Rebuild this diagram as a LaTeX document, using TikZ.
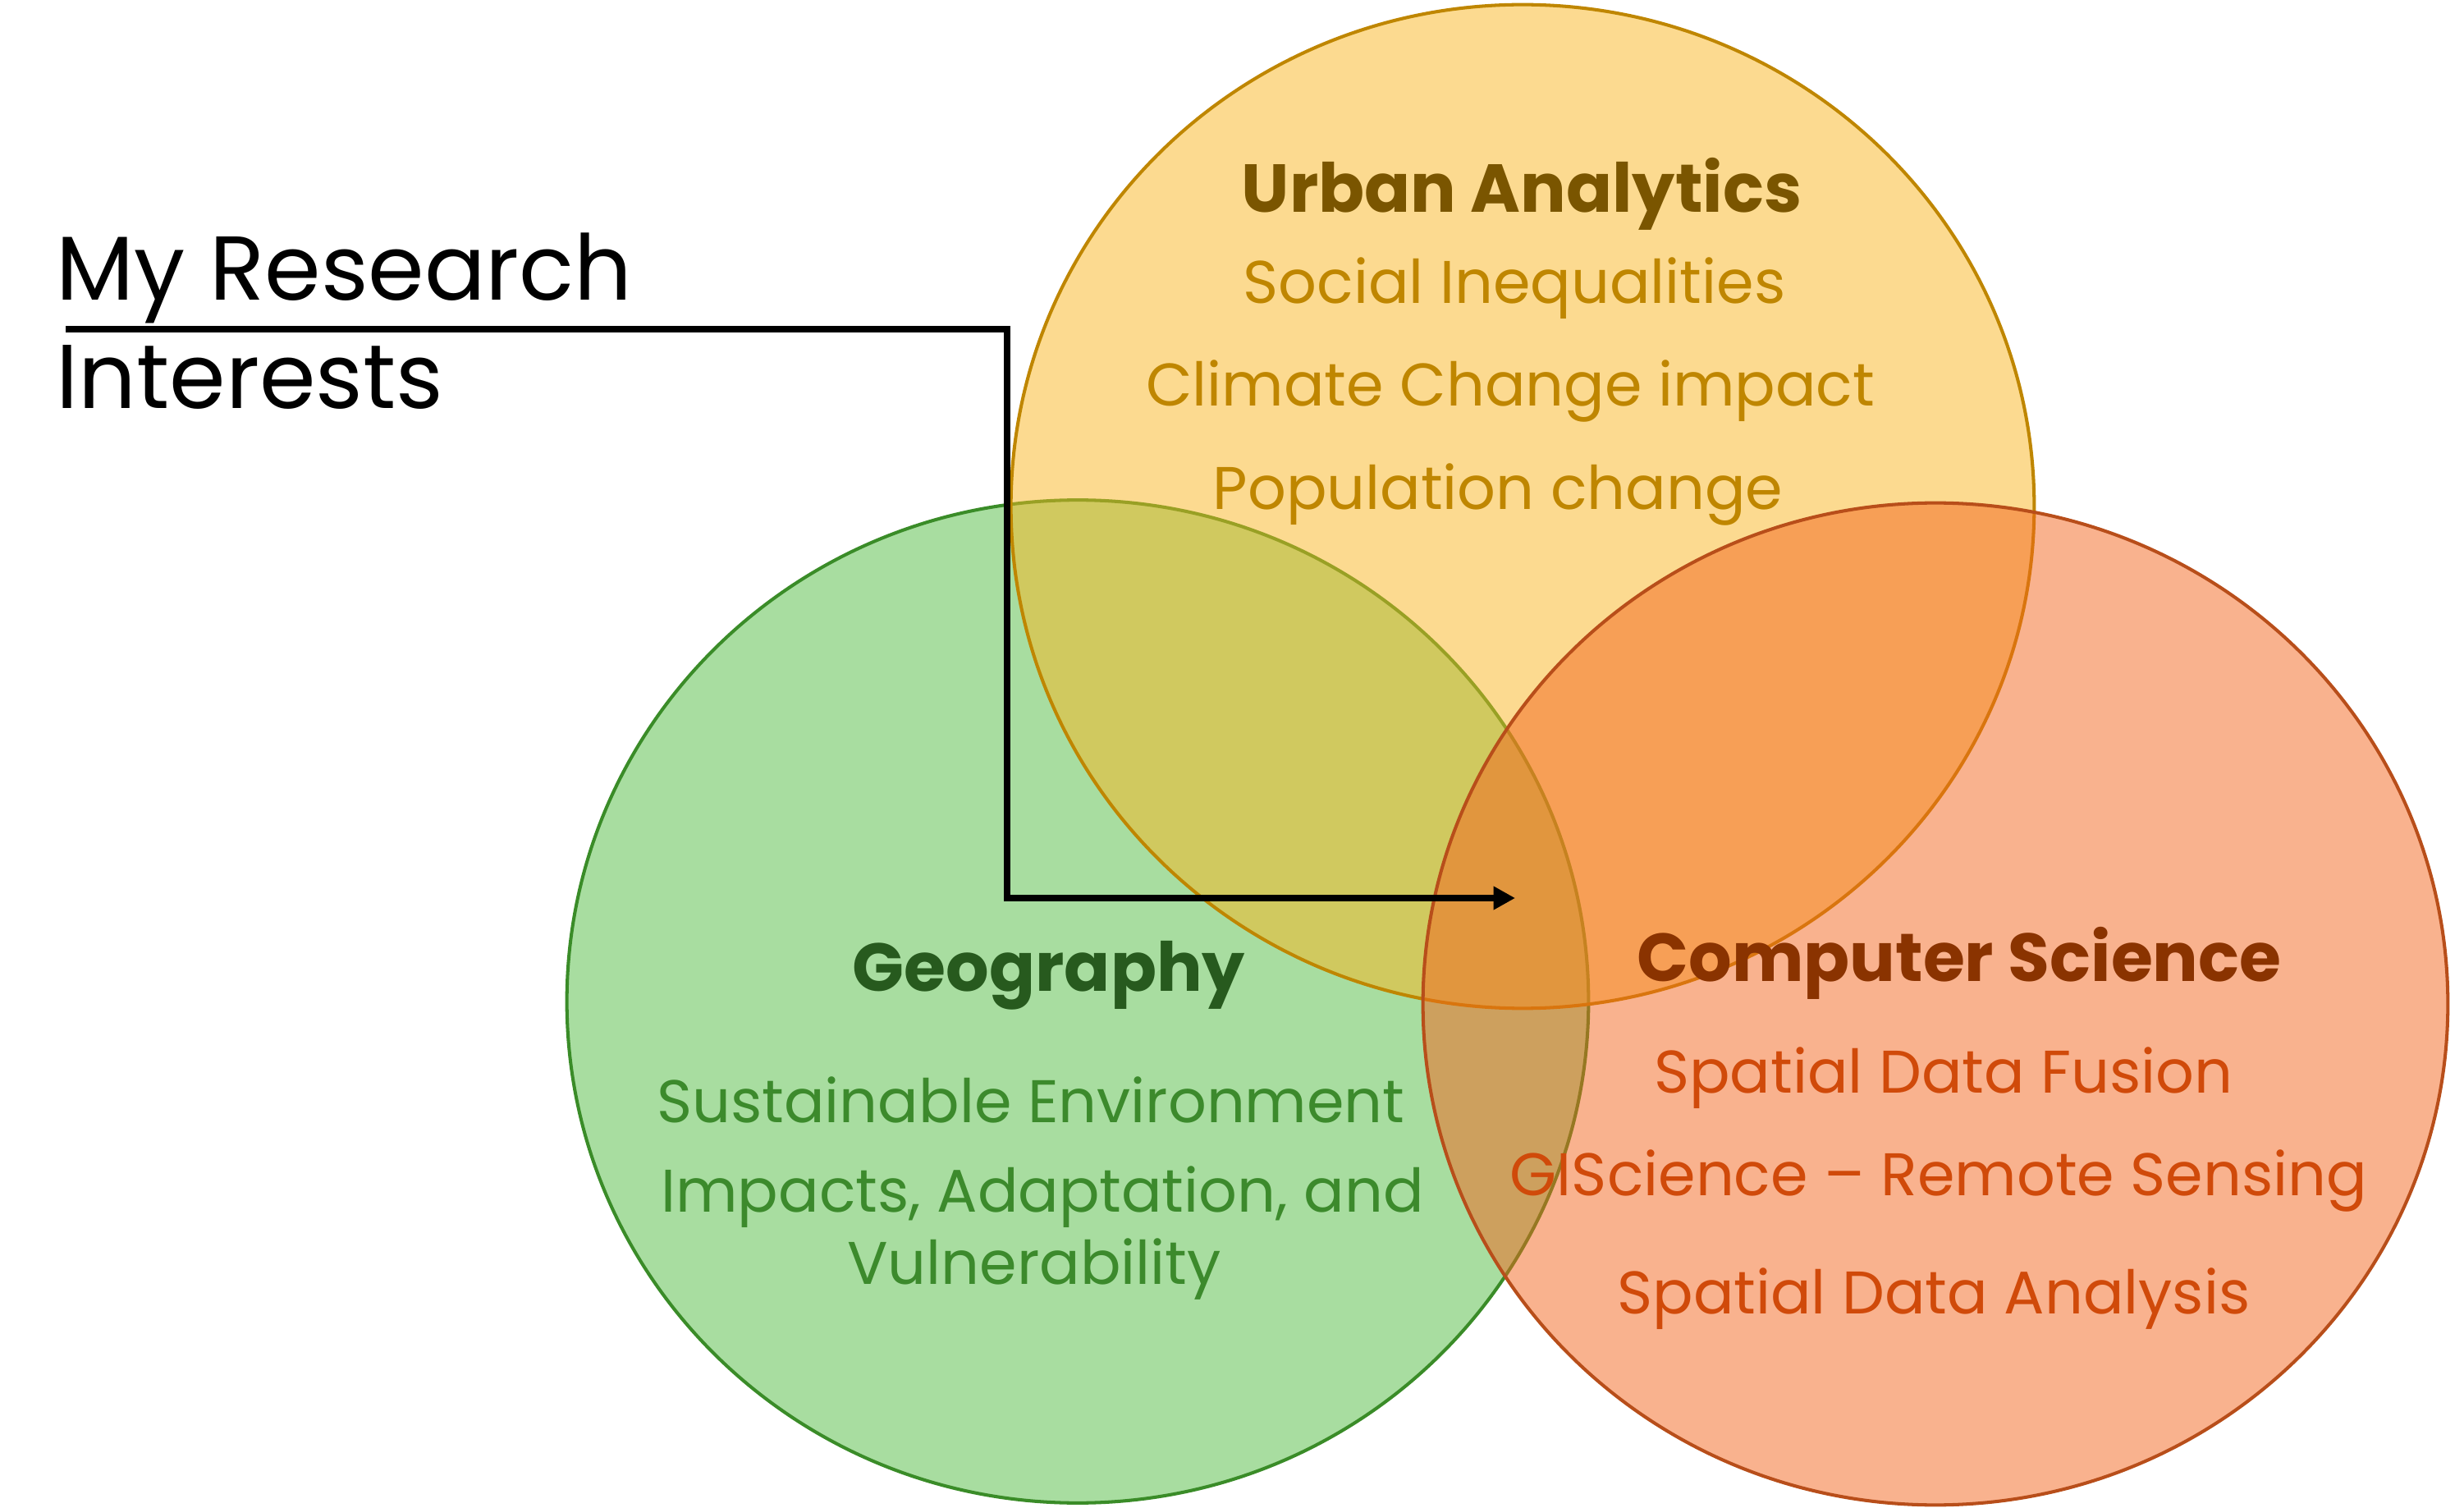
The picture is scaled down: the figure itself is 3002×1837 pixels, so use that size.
\documentclass[tikz,border=0pt]{standalone}
\usepackage{fontspec}
\setmainfont{Poppins}
\usetikzlibrary{arrows.meta}
\definecolor{yfill}{RGB}{249,181,33}
\definecolor{gfill}{RGB}{81,187,65}
\definecolor{ofill}{RGB}{243,101,29}
\definecolor{yline}{RGB}{191,134,0}
\definecolor{gline}{RGB}{58,140,40}
\definecolor{oline}{RGB}{184,78,26}
\definecolor{ytitle}{RGB}{122,85,0}
\definecolor{ytext}{RGB}{191,134,0}
\definecolor{gtitle}{RGB}{39,90,30}
\definecolor{gtext}{RGB}{60,138,44}
\definecolor{otitle}{RGB}{138,51,0}
\definecolor{otext}{RGB}{208,74,10}
\begin{document}
\begin{tikzpicture}[x=0.01cm,y=-0.01cm,
  venn/.style={line width=1.15pt, fill opacity=0.5},
  titletext/.style={font=\fontsize{23.5}{28}\selectfont\bfseries, anchor=base, inner sep=0pt},
  itemtext/.style={font=\fontsize{20.85}{25}\selectfont, anchor=base, inner sep=0pt},
  labeltext/.style={font=\fontsize{31.4}{36}\selectfont, anchor=base west, inner sep=0pt},
  pointer/.style={line width=2pt, -{Triangle[length=7.5pt,width=7.7pt]}}]
\useasboundingbox (0,0) rectangle (3002,1837);
% circles
\path[venn, draw=gline, fill=gfill] (1313,1220) ellipse [x radius=6.22cm, y radius=6.105cm];
\path[venn, draw=yline, fill=yfill] (1855,617) ellipse [x radius=6.23cm, y radius=6.11cm];
\path[venn, draw=oline, fill=ofill] (2358,1223) ellipse [x radius=6.24cm, y radius=6.10cm];
% label
\node[labeltext] (lab1) at (68,366) {My Research};
\node[labeltext] (lab2) at (68,498) {Interests};
% connector
\coordinate (start) at (80,401);
\coordinate (bendA) at (1227,401);
\coordinate (bendB) at (1227,1094);
\coordinate (tip) at (1846,1094);
\draw[pointer] (start) -- (bendA) -- (bendB) -- (tip);
% Urban Analytics
\node[titletext, text=ytitle] (ua) at (1854,259) {Urban Analytics};
\node[itemtext, text=ytext] (ua1) at (1845,370) {Social Inequalities};
\node[itemtext, text=ytext] (ua2) at (1840,495) {Climate Change impact};
\node[itemtext, text=ytext] (ua3) at (1825,621) {Population change};
% Geography
\node[titletext, text=gtitle] (geo) at (1278,1207) {Geography};
\node[itemtext, text=gtext] (geo1) at (1256,1367) {Sustainable Environment};
\node[itemtext, text=gtext] (geo2) at (1270,1476) {Impacts, Adaptation, and};
\node[itemtext, text=gtext] (geo3) at (1260,1564) {Vulnerability};
% Computer Science
\node[titletext, text=otitle] (cs) at (2387,1195) {Computer Science};
\node[itemtext, text=otext] (cs1) at (2368,1331) {Spatial Data Fusion};
\node[itemtext, text=otext] (cs2) at (2362,1456) {GIScience – Remote Sensing};
\node[itemtext, text=otext] (cs3) at (2356,1600) {Spatial Data Analysis};
\end{tikzpicture}
\end{document}
